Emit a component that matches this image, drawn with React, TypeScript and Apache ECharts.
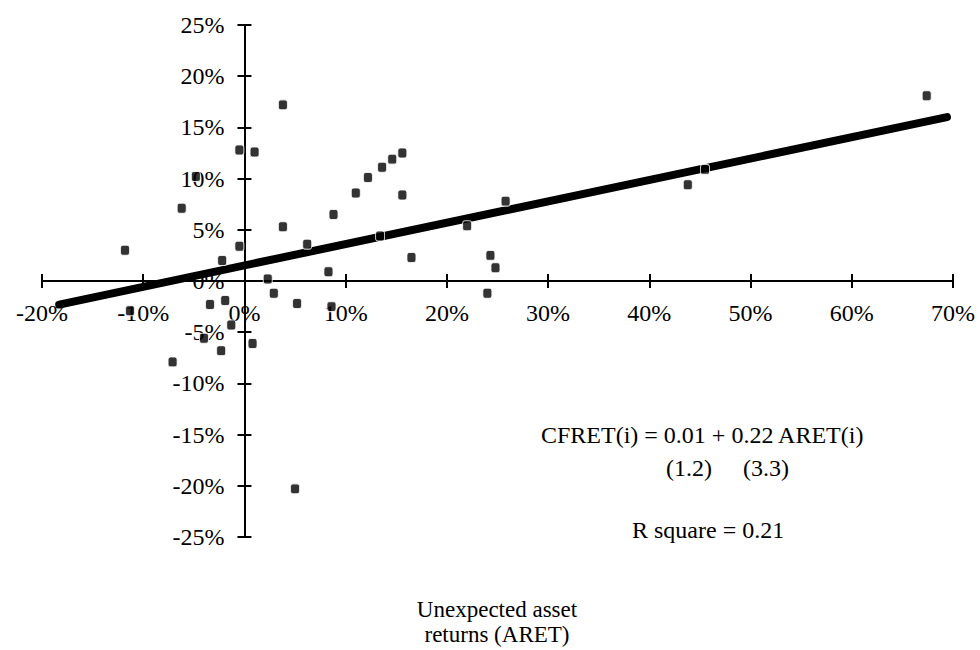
import React, { useEffect, useRef } from "react";
import * as echarts from "echarts";

// Scatter points: [unexpected asset return %, CFRET %]
const pointsX = [
  -11.8, -11.3, -7.1, -6.2, -4.8, -4.0, -3.4, -2.3, -2.2, -1.9, -1.3, -0.5, -0.5,
  0.8, 1.0, 2.3, 2.9, 3.8, 3.8, 5.0, 5.2, 6.2, 8.3, 8.6, 8.8, 11.0, 12.2, 13.4,
  13.6, 14.6, 15.6, 15.6, 16.5, 22.0, 24.0, 24.3, 24.8, 25.8, 43.8, 45.5, 67.4,
];
const pointsY = [
  3.0, -2.9, -7.9, 7.1, 10.2, -5.6, -2.3, -6.8, 2.0, -1.9, -4.3, 12.8, 3.4,
  -6.1, 12.6, 0.2, -1.2, 17.2, 5.3, -20.3, -2.2, 3.6, 0.9, -2.5, 6.5, 8.6, 10.1, 4.4,
  11.1, 11.9, 12.5, 8.4, 2.3, 5.4, -1.2, 2.5, 1.3, 7.8, 9.4, 10.9, 18.1,
];
// Regression line end points
const lineX = [-18.3, 69.4];
const lineY = [-2.3, 16.0];

const xTicks = { min: -20, max: 70, interval: 10 };
const yTicks = { min: -25, max: 25, interval: 5 };

const equationLine = "CFRET(i) = 0.01 + 0.22 ARET(i)";
const tStatLine1 = "(1.2)";
const tStatLine2 = "(3.3)";
const rSquareLine = "R square = 0.21";
const axisTitle = ["Unexpected asset", "returns (ARET)"];

const FONT = "'Liberation Serif', 'DejaVu Serif', serif";

// grid geometry
const GRID = { left: 42, right: 27, top: 25, bottom: 113 };
const W = 980;
const H = 650;

export default function App() {
  const ref = useRef<HTMLDivElement>(null);

  useEffect(() => {
    if (!ref.current) return;
    const chart = echarts.init(ref.current, undefined, { renderer: "svg" });

    const plotW = W - GRID.left - GRID.right;
    const plotH = H - GRID.top - GRID.bottom;
    // pixel position of the zero lines (where the axes cross)
    const zeroXpx = GRID.left + ((0 - xTicks.min) / (xTicks.max - xTicks.min)) * plotW;
    const zeroYpx = GRID.top + ((yTicks.max - 0) / (yTicks.max - yTicks.min)) * plotH;
    const bottomOffset = -(H - GRID.bottom - zeroYpx);
    const topOffset = -(zeroYpx - GRID.top);
    const leftOffset = -(zeroXpx - GRID.left);
    const rightOffset = -(W - GRID.right - zeroXpx);

    const axisLineStyle = { color: "#000", width: 2 };
    const tickStyle = { color: "#000", width: 2 };
    const labelStyle = {
      formatter: "{value}%",
      fontSize: 24,
      fontFamily: FONT,
      color: "#000",
      margin: 20,
    };

    const scatterData = pointsX.map((x, i) => [x, pointsY[i]]);
    const lineData = lineX.map((x, i) => [x, lineY[i]]);

    chart.setOption({
      animation: false,
      backgroundColor: "#fff",
      grid: { ...GRID, containLabel: false, outerBoundsMode: "none" },
      xAxis: [
        {
          type: "value",
          ...xTicks,
          position: "bottom",
          offset: bottomOffset,
          axisLine: { show: true, onZero: false, lineStyle: axisLineStyle },
          axisTick: { show: true, length: 7, lineStyle: tickStyle },
          axisLabel: labelStyle,
          splitLine: { show: false },
        },
        {
          type: "value",
          ...xTicks,
          position: "top",
          offset: topOffset,
          axisLine: { show: false, onZero: false },
          axisTick: { show: true, length: 7, lineStyle: tickStyle },
          axisLabel: { show: false },
          splitLine: { show: false },
        },
      ],
      yAxis: [
        {
          type: "value",
          ...yTicks,
          position: "left",
          offset: leftOffset,
          axisLine: { show: true, onZero: false, lineStyle: axisLineStyle },
          axisTick: { show: true, length: 7, lineStyle: tickStyle },
          axisLabel: labelStyle,
          splitLine: { show: false },
        },
        {
          type: "value",
          ...yTicks,
          position: "right",
          offset: rightOffset,
          axisLine: { show: false, onZero: false },
          axisTick: { show: true, length: 7, lineStyle: tickStyle },
          axisLabel: { show: false },
          splitLine: { show: false },
        },
      ],
      series: [
        {
          type: "line",
          data: lineData,
          xAxisIndex: 0,
          yAxisIndex: 0,
          symbol: "none",
          lineStyle: { color: "#000", width: 8, cap: "round" },
          z: 3,
          silent: true,
        },
        {
          type: "scatter",
          data: scatterData,
          xAxisIndex: 0,
          yAxisIndex: 0,
          symbol: "roundRect",
          symbolSize: [9, 10],
          itemStyle: { color: "#000", borderColor: "#fff", borderWidth: 1 },
          z: 4,
        },
      ],
      graphic: [
        {
          type: "text",
          x: 541,
          y: 435,
          style: {
            text: equationLine,
            font: `24px ${FONT}`,
            fill: "#000",
            textAlign: "left",
            textVerticalAlign: "middle",
          },
        },
        {
          type: "text",
          x: 666,
          y: 468,
          style: {
            text: tStatLine1,
            font: `24px ${FONT}`,
            fill: "#000",
            textAlign: "left",
            textVerticalAlign: "middle",
          },
        },
        {
          type: "text",
          x: 743,
          y: 468,
          style: {
            text: tStatLine2,
            font: `24px ${FONT}`,
            fill: "#000",
            textAlign: "left",
            textVerticalAlign: "middle",
          },
        },
        {
          type: "text",
          x: 632,
          y: 530,
          style: {
            text: rSquareLine,
            font: `24px ${FONT}`,
            fill: "#000",
            textAlign: "left",
            textVerticalAlign: "middle",
          },
        },
        {
          type: "text",
          x: 497,
          y: 609,
          style: {
            text: axisTitle[0],
            font: `23px ${FONT}`,
            fill: "#000",
            textAlign: "center",
            textVerticalAlign: "middle",
          },
        },
        {
          type: "text",
          x: 497,
          y: 634,
          style: {
            text: axisTitle[1],
            font: `23px ${FONT}`,
            fill: "#000",
            textAlign: "center",
            textVerticalAlign: "middle",
          },
        },
      ],
    });

    return () => chart.dispose();
  }, []);

  return (
    <div
      ref={ref}
      style={{ position: "absolute", left: 0, top: 0, width: W, height: H, background: "#fff" }}
    />
  );
}
